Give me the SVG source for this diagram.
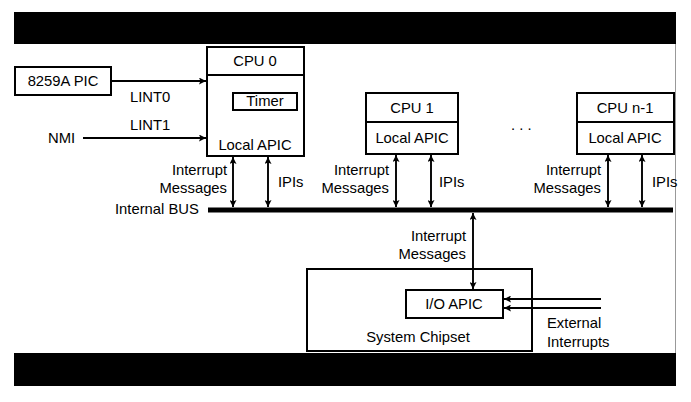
<svg xmlns="http://www.w3.org/2000/svg" width="691" height="402" viewBox="0 0 691 402">
<defs>
<style>
text{font-family:"Liberation Sans",Arial,sans-serif;font-size:14.8px;fill:#000}
.c{text-anchor:middle}
.r{text-anchor:end}
.box{fill:#fff;stroke:#000;stroke-width:2}
.ln{fill:none;stroke:#000;stroke-width:1.9}
.a2{marker-start:url(#ah);marker-end:url(#ah)}
.a1{marker-end:url(#ah)}
</style>
<marker id="ah" viewBox="0 0 10 10" refX="10" refY="5" markerWidth="10" markerHeight="7" markerUnits="userSpaceOnUse" orient="auto-start-reverse">
<path d="M0,0 L10,5 L0,10 L2,5 z" fill="#000"/>
</marker>
</defs>
<rect x="0" y="0" width="691" height="402" fill="#fff"/>
<rect x="14" y="12" width="662" height="32" fill="#000"/>
<rect x="14" y="353" width="662" height="33" fill="#000"/>
<line x1="675.5" y1="44" x2="675.5" y2="353" stroke="#999" stroke-width="1"/>

<g id="bus">
<rect x="208" y="207.5" width="465" height="5" fill="#000"/>
<text x="115" y="214">Internal BUS</text>
</g>

<g id="pic">
<rect class="box" x="15" y="67" width="96" height="28"/>
<text class="c" x="63" y="86">8259A PIC</text>
</g>

<g id="lint-labels">
<text x="130" y="102">LINT0</text>
<text x="130" y="130">LINT1</text>
<text x="48" y="143">NMI</text>
</g>

<g id="cpu0">
<rect class="box" x="207" y="47" width="97" height="109"/>
<line x1="207" y1="75" x2="304" y2="75" stroke="#000" stroke-width="2"/>
<text class="c" x="255" y="66">CPU 0</text>
<rect class="box" x="233" y="93" width="64" height="17"/>
<text class="c" x="265" y="106">Timer</text>
<text class="c" x="255" y="150">Local APIC</text>
<text class="r" x="227" y="175">Interrupt</text>
<text class="r" x="227" y="193">Messages</text>
<text x="278" y="187">IPIs</text>
</g>

<g id="cpu1">
<rect class="box" x="366" y="93" width="92" height="61"/>
<line x1="366" y1="122" x2="458" y2="122" stroke="#000" stroke-width="2"/>
<text class="c" x="412" y="113">CPU 1</text>
<text class="c" x="412" y="143">Local APIC</text>
<text class="r" x="389" y="175">Interrupt</text>
<text class="r" x="389" y="193">Messages</text>
<text x="439" y="187">IPIs</text>
</g>

<g id="dots">
<text x="511" y="130">. . .</text>
</g>

<g id="cpun1">
<rect class="box" x="577" y="93" width="97" height="61"/>
<line x1="577" y1="122" x2="674" y2="122" stroke="#000" stroke-width="2"/>
<text class="c" x="625" y="113">CPU n-1</text>
<text class="c" x="625" y="143">Local APIC</text>
<text class="r" x="601" y="175">Interrupt</text>
<text class="r" x="601" y="193">Messages</text>
<text x="652" y="187">IPIs</text>
</g>

<g id="chipset">
<rect class="box" x="307" y="269" width="225" height="82"/>
<text class="c" x="418" y="342">System Chipset</text>
<text class="r" x="466" y="241">Interrupt</text>
<text class="r" x="466" y="259">Messages</text>
</g>

<g id="ioapic">
<rect class="box" x="406" y="290" width="97" height="28"/>
<text class="c" x="454" y="309">I/O APIC</text>
</g>

<g id="external">
<text x="547" y="328">External</text>
<text x="547" y="347">Interrupts</text>
</g>

<g id="connectors">
<line class="ln a1" x1="111" y1="81" x2="206" y2="81"/>
<line class="ln a1" x1="83" y1="138" x2="206" y2="138"/>
<line class="ln a2" x1="233" y1="157" x2="233" y2="207"/>
<line class="ln a2" x1="268" y1="157" x2="268" y2="207"/>
<line class="ln a2" x1="396" y1="155" x2="396" y2="207"/>
<line class="ln a2" x1="431" y1="155" x2="431" y2="207"/>
<line class="ln a2" x1="608" y1="155" x2="608" y2="207"/>
<line class="ln a2" x1="642" y1="155" x2="642" y2="207"/>
<line class="ln a2" x1="473" y1="213" x2="473" y2="289"/>
<line class="ln a1" x1="601" y1="299" x2="504" y2="299"/>
<line class="ln a1" x1="601" y1="308" x2="504" y2="308"/>
</g>
</svg>
